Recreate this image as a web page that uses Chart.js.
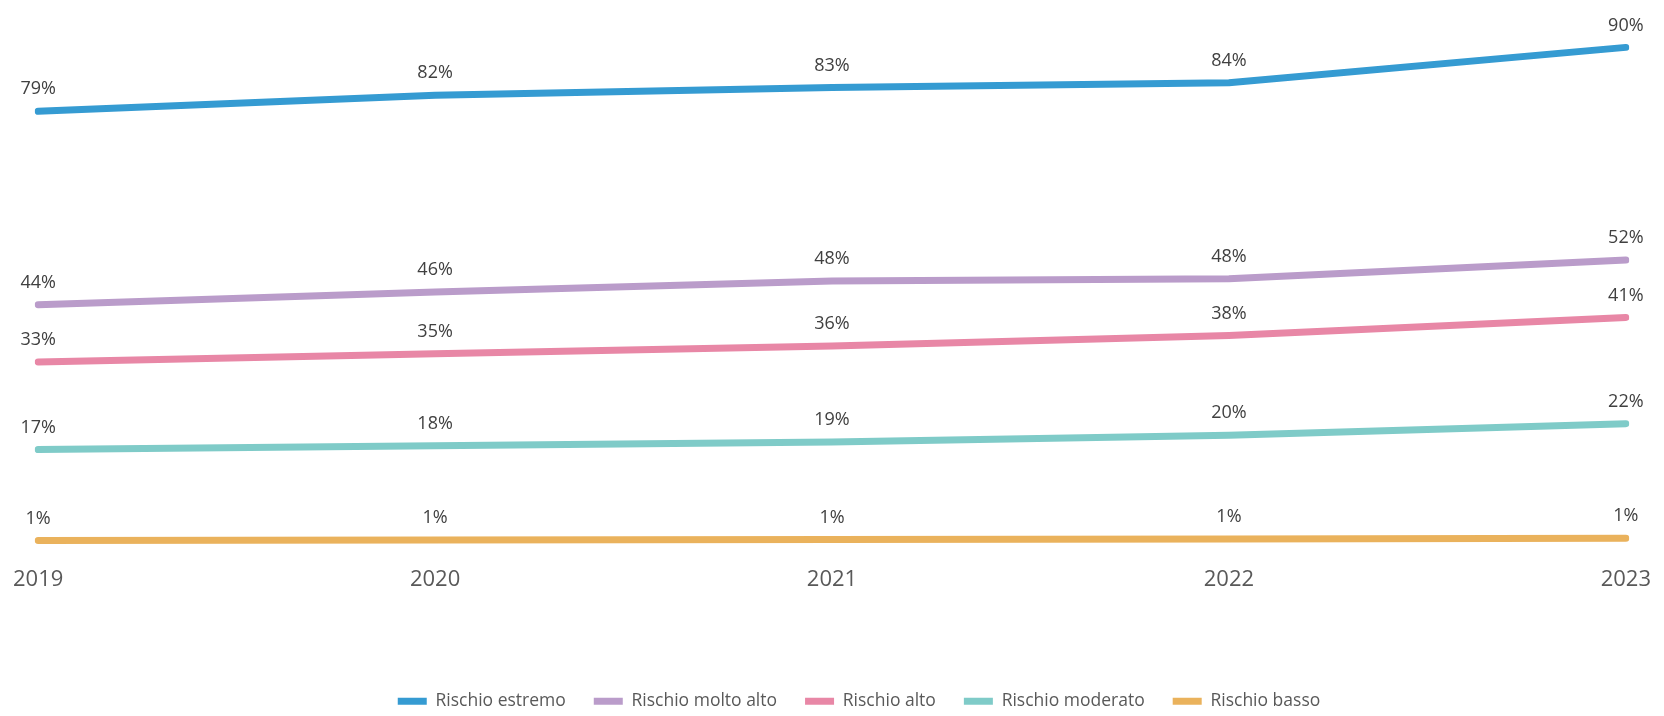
<!DOCTYPE html>
<html>
<head>
<meta charset="utf-8">
<script src="https://cdn.jsdelivr.net/npm/chart.js@4/dist/chart.umd.min.js"></script>
<style>
  html, body { margin: 0; padding: 0; background: #fff; }
  #wrap { width: 1664px; height: 716px; position: relative; }
</style>
</head>
<body>
<div id="wrap"><canvas id="rischioChart"></canvas></div>
<script>
// Dati
const anni = ['2019', '2020', '2021', '2022', '2023'];
const estremo = [78.8, 81.7, 83.1, 84.0, 90.4];
const moltoAlto = [43.7, 46.0, 48.0, 48.4, 51.8];
const alto = [33.3, 34.8, 36.2, 38.1, 41.4];
const moderato = [17.4, 18.1, 18.8, 20.0, 22.1];
const basso = [0.9, 1.0, 1.1, 1.2, 1.3];

const FONT = "'Open Sans', 'Noto Sans', sans-serif";

function serie(label, data, colore) {
  return {
    label: label,
    data: data,
    borderColor: colore,
    backgroundColor: colore,
    borderWidth: 7,
    borderCapStyle: 'round',
    borderJoinStyle: 'round',
    tension: 0,
    pointRadius: 0,
    pointHoverRadius: 0,
    fill: false
  };
}

// etichette percentuali sopra ai punti
const etichette = {
  id: 'etichette',
  afterDatasetsDraw(chart) {
    const ctx = chart.ctx;
    ctx.save();
    ctx.font = '18px ' + FONT;
    ctx.fillStyle = '#404040';
    ctx.textAlign = 'center';
    ctx.textBaseline = 'middle';
    chart.data.datasets.forEach((ds, i) => {
      chart.getDatasetMeta(i).data.forEach((pt, j) => {
        ctx.fillText(Math.round(ds.data[j]) + '%', pt.x, pt.y - 22);
      });
    });
    ctx.restore();
  }
};

// sposta un po' la legenda (a destra e in basso) come nell'originale
const spostaLegenda = {
  id: 'spostaLegenda',
  afterLayout(chart) {
    const lg = chart.legend;
    if (!lg) return;
    lg.left += 27;
    lg.right += 27;
    lg.top += 4;
    lg.bottom += 4;
  }
};

const ctx = document.getElementById('rischioChart').getContext('2d');
const rischioChart = new Chart(ctx, {
  type: 'line',
  data: {
    labels: anni,
    datasets: [
      serie('Rischio estremo', estremo, '#359bd2'),
      serie('Rischio molto alto', moltoAlto, '#ba9cca'),
      serie('Rischio alto', alto, '#e887a6'),
      serie('Rischio moderato', moderato, '#7fcbc8'),
      serie('Rischio basso', basso, '#eab25c')
    ]
  },
  options: {
    responsive: true,
    maintainAspectRatio: false,
    animation: false,
    layout: {
      padding: { left: 0, right: 0, top: 0, bottom: 0 }
    },
    scales: {
      x: {
        grid: { display: false, drawTicks: true, tickLength: 8 },
        border: { display: false },
        ticks: {
          color: '#595959',
          font: { family: FONT, size: 22 },
          padding: 13,
          maxRotation: 0
        },
        afterFit: (scale) => { scale.height = 115; }
      },
      y: {
        display: false,
        min: 0,
        max: 99
      }
    },
    plugins: {
      legend: {
        position: 'bottom',
        labels: {
          color: '#595959',
          font: { family: FONT, size: 17.5 },
          usePointStyle: true,
          pointStyle: 'line',
          pointStyleWidth: 29,
          padding: 28
        }
      },
      tooltip: { enabled: false }
    }
  },
  plugins: [etichette, spostaLegenda]
});
</script>
</body>
</html>
